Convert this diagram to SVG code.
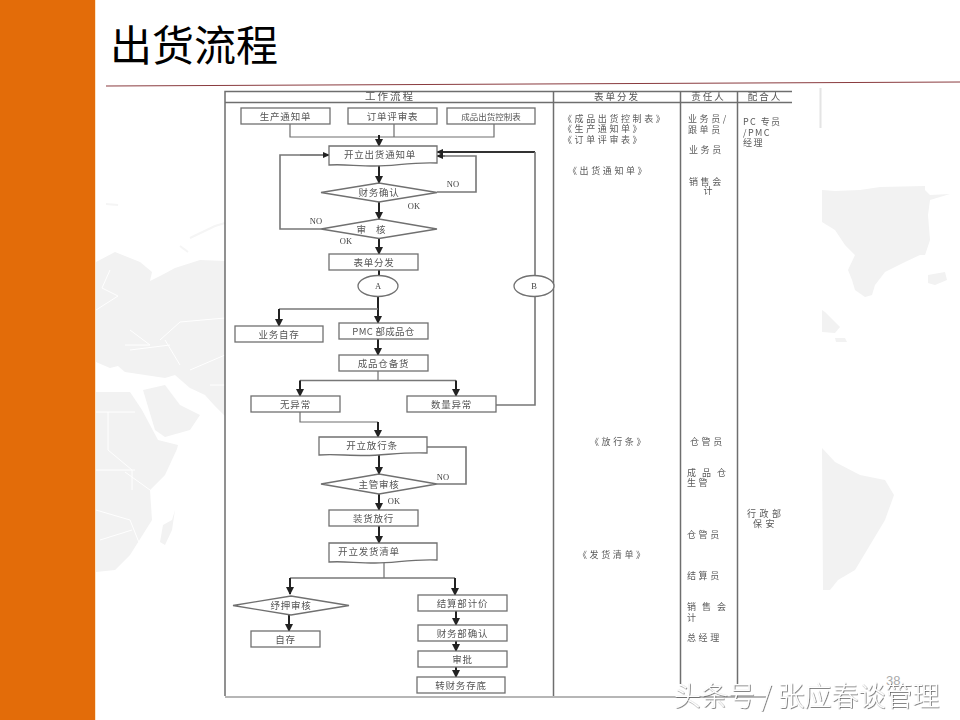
<svg xmlns="http://www.w3.org/2000/svg" width="960" height="720" viewBox="0 0 960 720">
<style>
text{font-family:"Noto Sans CJK SC","Noto Sans",sans-serif}
.n{fill:#fff;stroke:#707070;stroke-width:1.3}
.t{font-size:9.5px;fill:#555;text-anchor:middle;letter-spacing:.8px}
.s{font-size:9px;fill:#5a5a5a;letter-spacing:2.6px}
.l{font-family:"Liberation Serif",serif;font-size:8.5px;fill:#444;text-anchor:middle}
.c{fill:none;stroke:#6e6e6e;stroke-width:1.2}
.a{fill:none;stroke:#222;stroke-width:2;marker-end:url(#ah)}
.p{fill:none;stroke:#222;stroke-width:2}
.f{fill:none;stroke:#777;stroke-width:1.6}
.m{fill:#f2f2f2}
.b{fill:none;stroke:#fff;stroke-width:1}
</style>
<defs>
<marker id="ah" markerWidth="4" markerHeight="4" refX="3.5" refY="2" orient="auto"><path d="M0 0L4 2L0 4Z" fill="#222"/></marker>
<marker id="ai" markerWidth="7" markerHeight="6" refX="6" refY="3" orient="auto" markerUnits="userSpaceOnUse"><path d="M0 0L7 3L0 6Z" fill="#222"/></marker>
<filter id="soft" x="-2%" y="-2%" width="104%" height="104%"><feGaussianBlur stdDeviation="0.45"/></filter>
<filter id="wm" x="-5%" y="-20%" width="110%" height="140%"><feDropShadow dx="0.7" dy="0.7" stdDeviation="0.3" flood-color="#555"/></filter>
</defs>
<rect width="960" height="720" fill="#fff"/>
<rect width="95" height="720" fill="#e36c09"/>
<rect x="95" width="1" height="720" fill="#fde4c4"/>
<g id="map">
<path class="m" d="M96 262L115 252L140 262L152 272L150 281L162 275L175 268L200 260L225 261V416L214 405L205 395L190 388L175 375L165 378L125 372L118 366L110 368L96 362Z"/>
<path class="m" d="M96 392L130 392L142 410L158 440L178 445L177 449L165 475L150 490L152 520L130 555L115 570L96 572Z"/>
<path class="m" d="M143 390L165 385L180 405L200 415L190 430L165 437L155 430Z"/>
<path class="m" d="M172 520L175 510L172 530L165 545L160 542L163 525Z"/>
<path class="b" d="M96 412H135M108 412V450L132 470V490M96 470L135 470M125 472L150 490M96 510L130 520L140 545M100 540L132 530M160 340L180 322L225 318M130 330L150 345L125 345M190 370L225 355M210 385L225 385"/>
<path class="b" stroke-width="3" d="M110 270L102 288L118 296L96 310M130 350L170 345M165 340L180 365"/>
<path d="M190 238L215 226L225 223M180 246L188 252M106 204L118 205" fill="none" stroke="#f5f5f5" stroke-width="2"/>
<path class="m" d="M822 190L835 191L860 190L880 187L925 186L925 190L930 195L950 194L930 200L928 215L930 240L925 255L920 255L905 262L885 272L875 285L872 295L865 297L855 290L852 280L848 270L855 255L845 245L835 230L822 222Z"/>
<path class="m" d="M928 275L945 272L947 280L935 285L928 283Z"/>
<path class="m" d="M822 310L825 312L840 327L835 333L822 332Z"/>
<path class="m" d="M835 338L845 338L847 342L836 342Z"/>
<path class="m" d="M822 448L835 462L860 475L885 480L894 495L885 520L870 545L855 570L838 580L830 590L823 590Z"/>
<rect x="819.500" y="88" width="2" height="40" fill="#e4e4e4"/>
</g>
<text id="title" x="110" y="61" font-size="42" fill="#000">出货流程</text>
<path id="rule" d="M106 86L960 82" fill="none" stroke="#8a3b3f" stroke-width="1"/>
<g filter="url(#soft)">
<g id="frame" fill="none" stroke="#6e6e6e">
<path stroke-width="1.5" d="M225 696V91.500H792M225 102.500H792M553.500 91.500V696M680.500 91.500V684M737.500 91.500V684"/>
<path stroke-width="1.2" d="M225 697H766"/>
</g>
<g id="connectors">
<path class="c" d="M290 124V137H494V124M394 124V137"/>
<path class="a" d="M379 135V146"/>
<path class="a" d="M379 165V183"/>
<path class="a" d="M379 202V219"/>
<path class="a" d="M379 238V254"/>
<path class="p" d="M379 270V276"/>
<path class="f" d="M321 229H280V155H300"/>
<path d="M300 155H329" fill="none" stroke="#333" stroke-width="1.2" marker-end="url(#ai)"/>
<path class="f" d="M437 192H476V156H445"/>
<path d="M445 156H437" fill="none" stroke="#222" stroke-width="1.2" marker-end="url(#ai)"/>
<path d="M535 152H437" fill="none" stroke="#333" stroke-width="1.8" marker-end="url(#ai)"/>
<path class="f" d="M535 152V276M535 296.500V405H496"/>
<path class="a" d="M378 297V323"/>
<path class="f" d="M378 309H279"/>
<path class="a" d="M279 309V326"/>
<path class="a" d="M378 339V355"/>
<path class="c" d="M378 371V380.500"/>
<path class="f" d="M300 380.500H456"/>
<path class="a" d="M300 380.500V396"/>
<path class="a" d="M456 380.500V396"/>
<path class="c" d="M300 412V422H378"/>
<path class="a" d="M378 422V437"/>
<path class="a" d="M379 455V474"/>
<path class="f" d="M427 447H466V484H437"/>
<path class="a" d="M379 494V510"/>
<path class="a" d="M379 526V543"/>
<path class="c" d="M384 563V578"/>
<path class="f" d="M290 578H455"/>
<path class="a" d="M290 578V594"/>
<path class="a" d="M455 578V595"/>
<path class="a" d="M289 615V631"/>
<path class="a" d="M456 611V625"/>
<path class="a" d="M456 641V651"/>
<path class="a" d="M456 667V677"/>
</g>
<g id="n1"><rect class="n" x="241" y="108" width="89" height="16"/><text class="t" x="285.500" y="119.500">生产通知单</text></g>
<g id="n2"><rect class="n" x="348" y="108" width="89" height="16"/><text class="t" x="392.500" y="119.500">订单评审表</text></g>
<g id="n3"><rect class="n" x="447" y="108" width="88" height="16"/><text class="t" x="491" y="119.500" style="font-size:8.500px;letter-spacing:0">成品出货控制表</text></g>
<g id="n4"><path class="n" d="M329 146H437V163C410 162 395 166 375 166C355 166 345 164 329 165Z"/><text class="t" x="380" y="157.500">开立出货通知单</text></g>
<g id="n5"><path class="n" d="M321 192.500L379 183L437 192.500L379 202Z"/><text class="t" x="379" y="196">财务确认</text></g>
<g id="n6"><path class="n" d="M321 229L379 219L437 229L379 238.500Z"/><text class="t" x="373" y="232.500" style="letter-spacing:4px">审 核</text></g>
<g id="n7"><rect class="n" x="329" y="254" width="89" height="16"/><text class="t" x="374" y="265.500">表单分发</text></g>
<g id="n8"><ellipse class="n" cx="378" cy="286" rx="20" ry="10.500"/><text class="l" x="378" y="289">A</text></g>
<g id="n9"><ellipse class="n" cx="534" cy="286" rx="20" ry="10.500"/><text class="l" x="534" y="289">B</text></g>
<g id="n10"><rect class="n" x="235" y="326" width="88" height="16"/><text class="t" x="279" y="337.500">业务自存</text></g>
<g id="n11"><rect class="n" x="339" y="323" width="89" height="16"/><text class="t" x="383.500" y="334.500" style="letter-spacing:.3px">PMC 部成品仓</text></g>
<g id="n12"><rect class="n" x="339" y="355" width="89" height="16"/><text class="t" x="383.500" y="366.500">成品仓备货</text></g>
<g id="n13"><rect class="n" x="251" y="396" width="89" height="16"/><text class="t" x="295.500" y="407.500">无异常</text></g>
<g id="n14"><rect class="n" x="407" y="396" width="89" height="16"/><text class="t" x="451.500" y="407.500">数量异常</text></g>
<g id="n15"><path class="n" d="M319 437H427V453C400 452 385 455.500 365 455.500C345 455.500 335 454 319 455Z"/><text class="t" x="372" y="448.500">开立放行条</text></g>
<g id="n16"><path class="n" d="M321 484L379 474L437 484L379 494Z"/><text class="t" x="379" y="487.500">主管审核</text></g>
<g id="n17"><rect class="n" x="329" y="510" width="89" height="16"/><text class="t" x="373.500" y="521.500">装货放行</text></g>
<g id="n18"><path class="n" d="M329 543H437V560C410 559 395 563 375 563C355 563 345 561 329 562Z"/><text class="t" x="369" y="554.500">开立发货清单</text></g>
<g id="n19"><path class="n" d="M233 605.500L291 596L349 605.500L291 615Z"/><text class="t" x="291" y="609">纾押审核</text></g>
<g id="n20"><rect class="n" x="251" y="631" width="69" height="16"/><text class="t" x="285.500" y="642.500">自存</text></g>
<g id="n21"><rect class="n" x="418" y="595" width="89" height="16"/><text class="t" x="462.500" y="606.500">结算部计价</text></g>
<g id="n22"><rect class="n" x="418" y="625" width="89" height="16"/><text class="t" x="462.500" y="636.500">财务部确认</text></g>
<g id="n23"><rect class="n" x="418" y="651" width="89" height="16"/><text class="t" x="462.500" y="662.500">审批</text></g>
<g id="n24"><rect class="n" x="417" y="677" width="88" height="16"/><text class="t" x="461" y="688.500">转财务存底</text></g>
<g id="labels">
<text class="l" x="453" y="187">NO</text>
<text class="l" x="316" y="224">NO</text>
<text class="l" x="414" y="209">OK</text>
<text class="l" x="346" y="244">OK</text>
<text class="l" x="443" y="480">NO</text>
<text class="l" x="394" y="504">OK</text>
</g>
<g id="headers">
<text class="t" x="390" y="100" style="letter-spacing:2px;font-size:10.500px">工作流程</text>
<text class="t" x="617" y="100" style="letter-spacing:2px">表单分发</text>
<text class="t" x="708.500" y="100" style="letter-spacing:2px">责任人</text>
<text class="t" x="765" y="100" style="letter-spacing:2px">配合人</text>
</g>
<g id="columns">
<text class="s"><tspan x="563" y="122">《成品出货控制表》</tspan><tspan x="563" y="132">《生产通知单》</tspan><tspan x="563" y="142.500">《订单评审表》</tspan></text>
<text class="s" x="568" y="173.500">《出货通知单》</text>
<text class="s" x="590" y="444.500">《放行条》</text>
<text class="s" x="578" y="557.500">《发货清单》</text>
<text class="s"><tspan x="688" y="122">业务员/</tspan><tspan x="688" y="132.500">跟单员</tspan></text>
<text class="s" x="689" y="152.500">业务员</text>
<text class="s"><tspan x="689" y="184.500">销售会</tspan><tspan x="703.500" y="194">计</tspan></text>
<text class="s" x="690" y="444.500">仓管员</text>
<text class="s" style="letter-spacing:6px"><tspan x="687" y="475.500">成品仓</tspan><tspan x="687" y="486" style="letter-spacing:2.600px">生管</tspan></text>
<text class="s" x="687" y="537.500">仓管员</text>
<text class="s" x="687" y="578.500">结算员</text>
<text class="s" style="letter-spacing:6px"><tspan x="687" y="609.500">销售会</tspan><tspan x="687" y="620.500">计</tspan></text>
<text class="s" x="687" y="640.500">总经理</text>
<text class="s" style="letter-spacing:1.400px"><tspan x="743" y="125">PC 专员</tspan><tspan x="743" y="135.500">/PMC</tspan><tspan x="743" y="145.500">经理</tspan></text>
<text class="s" style="letter-spacing:3.500px"><tspan x="747" y="516.500">行政部</tspan><tspan x="753" y="526.500">保安</tspan></text>
</g>
</g>
<text id="page" x="886" y="685" font-size="13" fill="#aaa" style="font-family:'Liberation Sans',sans-serif">38</text>
<text id="watermark" x="674" y="706" font-size="27" font-weight="300" fill="#fff" filter="url(#wm)">头条号 / 张应春谈管理</text>
</svg>
